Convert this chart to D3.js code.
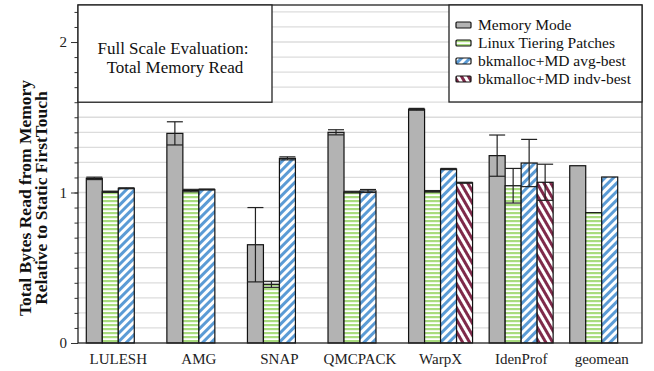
<!DOCTYPE html>
<html><head><meta charset="utf-8">
<script src="https://cdn.jsdelivr.net/npm/d3@7"></script>
<style>body{margin:0;background:#fff}svg{display:block}</style>
</head><body><svg id="c" width="654" height="371"></svg>
<script>
const categories = ["LULESH","AMG","SNAP","QMCPACK","WarpX","IdenProf","geomean"];
const seriesNames = ["Memory Mode","Linux Tiering Patches","bkmalloc+MD avg-best","bkmalloc+MD indv-best"];
const memoryMode    = [1.094, 1.393, 0.653, 1.400, 1.553, 1.245, 1.178];
const memoryModeErr = [0.008, 0.077, 0.247, 0.017, 0.006, 0.137, 0];
const linuxTiering    = [1.005, 1.013, 0.390, 1.003, 1.008, 1.045, 0.866];
const linuxTieringErr = [0.004, 0.008, 0.020, 0.005, 0.005, 0.115, 0];
const avgBest    = [1.028, 1.020, 1.227, 1.010, 1.156, 1.196, 1.103];
const avgBestErr = [0.003, 0.003, 0.010, 0.010, 0.004, 0.157, 0];
const indvBest    = [null, null, null, null, 1.065, 1.068, null];
const indvBestErr = [0, 0, 0, 0, 0.003, 0.120, 0];
const yMajorTicks = [0, 1, 2];

const values = [memoryMode, linuxTiering, avgBest, indvBest];
const errors = [memoryModeErr, linuxTieringErr, avgBestErr, indvBestErr];
const FONT = "Liberation Serif";

const svg = d3.select("#c");
const L = 78, R = 642, T = 5, B = 343;
const y = d3.scaleLinear().domain([0, 2.246]).range([B, T]);
const x = d3.scaleBand().domain(categories).range([L, R]);
const xs = d3.scaleBand().domain(seriesNames).range([8.3, x.bandwidth() - 8.3]);

// patterns
const defs = svg.append("defs");
const pg = defs.append("pattern").attr("id","pGreen").attr("patternUnits","userSpaceOnUse").attr("width",8).attr("height",4);
pg.append("rect").attr("width",8).attr("height",4).attr("fill","#fff");
pg.append("rect").attr("y",0).attr("width",8).attr("height",2.2).attr("fill","#a9dc7e");
const pb = defs.append("pattern").attr("id","pBlue").attr("patternUnits","userSpaceOnUse").attr("width",6).attr("height",6).attr("patternTransform","rotate(45)");
pb.append("rect").attr("width",6).attr("height",6).attr("fill","#fff");
pb.append("rect").attr("width",3).attr("height",6).attr("fill","#5b9bd5");
const pr = defs.append("pattern").attr("id","pRed").attr("patternUnits","userSpaceOnUse").attr("width",6).attr("height",6).attr("patternTransform","rotate(-30)");
pr.append("rect").attr("width",6).attr("height",6).attr("fill","#fff");
pr.append("rect").attr("width",3).attr("height",6).attr("fill","#7f2a4a");
const fills = ["#b3b3b3","url(#pGreen)","url(#pBlue)","url(#pRed)"];

// gridlines every 0.1
const minor = d3.range(1, 23).map(i => i / 10);
svg.append("g").selectAll("line").data(minor).join("line")
  .attr("x1", L).attr("x2", R).attr("y1", d => y(d)).attr("y2", d => y(d))
  .attr("stroke", "#dcdcdc").attr("stroke-width", 1.3);

// axis
const yAxisMinor = d3.axisLeft(y).tickValues(d3.range(0, 23).map(i => i / 10)).tickSize(3.5).tickFormat("");
const ga = svg.append("g").attr("transform", `translate(${L},0)`).call(yAxisMinor);
ga.select(".domain").remove();
ga.selectAll("line").attr("stroke","#333");
const yAxisMajor = d3.axisLeft(y).tickValues(yMajorTicks).tickSize(7).tickPadding(4).tickFormat(d3.format("d"));
const gm = svg.append("g").attr("transform", `translate(${L},0)`).call(yAxisMajor);
gm.attr("font-family", FONT);
gm.select(".domain").remove();
gm.selectAll("line").attr("stroke","#333");
gm.selectAll("text").attr("font-size", 15).attr("font-family", FONT).attr("fill","#222");

// bars
seriesNames.forEach((s, si) => {
  const g = svg.append("g");
  const data = categories.map((c, i) => ({c, v: values[si][i], e: errors[si][i]})).filter(d => d.v != null);
  g.selectAll("rect").data(data).join("rect")
    .attr("x", d => x(d.c) + xs(s)).attr("width", xs.bandwidth())
    .attr("y", d => y(d.v)).attr("height", d => y(0) - y(d.v))
    .attr("fill", fills[si]).attr("stroke", "#111").attr("stroke-width", 1.2);
  const eb = data.filter(d => d.e > 0);
  const eg = g.append("g").attr("stroke", "#222").attr("stroke-width", 1.2);
  eg.selectAll("line.v").data(eb).join("line").attr("class","v")
    .attr("x1", d => x(d.c) + xs(s) + xs.bandwidth()/2).attr("x2", d => x(d.c) + xs(s) + xs.bandwidth()/2)
    .attr("y1", d => y(d.v + d.e)).attr("y2", d => y(d.v - d.e));
  eg.selectAll("line.t").data(eb).join("line").attr("class","t")
    .attr("x1", d => x(d.c) + xs(s)).attr("x2", d => x(d.c) + xs(s) + xs.bandwidth())
    .attr("y1", d => y(d.v + d.e)).attr("y2", d => y(d.v + d.e));
  eg.selectAll("line.b").data(eb).join("line").attr("class","b")
    .attr("x1", d => x(d.c) + xs(s)).attr("x2", d => x(d.c) + xs(s) + xs.bandwidth())
    .attr("y1", d => y(d.v - d.e)).attr("y2", d => y(d.v - d.e));
});

// x axis
const xAxis = d3.axisBottom(x).tickSize(0).tickPadding(10);
const gx = svg.append("g").attr("transform", `translate(0,${B})`).call(xAxis);
gx.attr("font-family", FONT);
gx.select(".domain").remove();
gx.selectAll("text").attr("font-size", 15).attr("font-family", FONT).attr("fill","#222");

// frame
svg.append("rect").attr("x", L).attr("y", T).attr("width", R - L).attr("height", B - T)
  .attr("fill","none").attr("stroke","#222").attr("stroke-width",1.3);

// title box
svg.append("rect").attr("x", L).attr("y", T).attr("width", 272 - L).attr("height", y(1.6) - T)
  .attr("fill","#fff").attr("stroke","#222").attr("stroke-width",1.3);
const tt = svg.append("text").attr("text-anchor","middle").attr("font-size",17).attr("font-family", FONT).attr("fill","#111");
tt.append("tspan").attr("x",173).attr("y",54).text("Full Scale Evaluation:");
tt.append("tspan").attr("x",175).attr("y",73).text("Total Memory Read");

// legend
svg.append("rect").attr("x", 449).attr("y", T).attr("width", R - 449).attr("height", 97)
  .attr("fill","#fff").attr("stroke","#222").attr("stroke-width",1.3);
const lg = svg.append("g");
seriesNames.forEach((s, i) => {
  const cy = 25 + i * 18;
  lg.append("rect").attr("x", 456).attr("y", cy - 3).attr("width", 15).attr("height", 6)
    .attr("fill", fills[i]).attr("stroke","#111").attr("stroke-width",1.2).attr("rx",1);
  lg.append("text").attr("x", 478).attr("y", cy + 5).attr("font-size", 15.5).attr("font-family", FONT).attr("fill","#111").text(s);
});

// y label
const yl = svg.append("text").attr("transform","translate(0,198) rotate(-90)").attr("text-anchor","middle")
  .attr("font-size",17.5).attr("font-weight","bold").attr("font-family", FONT).attr("fill","#111");
yl.append("tspan").attr("x",0).attr("y",31).text("Total Bytes Read from Memory");
yl.append("tspan").attr("x",0).attr("y",47).text("Relative to Static FirstTouch");
</script></body></html>
